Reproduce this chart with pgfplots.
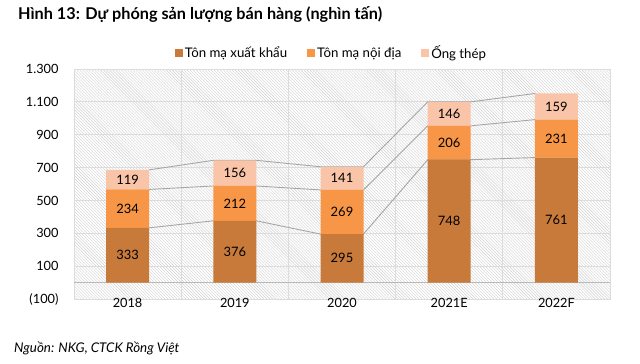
\documentclass[border=0pt]{standalone}
\usepackage{pgfplots}
\pgfplotsset{compat=1.18}
\usepackage{fontspec}
\setmainfont{Lato}
\usetikzlibrary{patterns}
\definecolor{c1}{HTML}{C87A3A}
\definecolor{c2}{HTML}{F79646}
\definecolor{c3}{HTML}{F9C4A7}
\definecolor{gridc}{HTML}{DCDCDC}
\definecolor{hatchc}{HTML}{CFCFCF}
\definecolor{linec}{HTML}{A6A6A6}
\begin{document}
\begin{tikzpicture}
\useasboundingbox (0bp,0bp) rectangle (640bp,-364bp);
\node[anchor=west, inner sep=0pt, font=\bfseries\fontsize{16.3}{19}\selectfont] at (18bp,-15bp) {Hình 13: Dự phóng sản lượng bán hàng (nghìn tấn)};
\node[anchor=west, inner sep=0pt, font=\itshape\fontsize{13.4}{16}\selectfont] at (14bp,-348bp) {Nguồn: NKG, CTCK Rồng Việt};
\pgfplotsset{base/.style={width=536bp,height=230bp,scale only axis, at={(74bp,-299bp)}, anchor=south west, xmin=-0.5,xmax=4.5,ymin=-100,ymax=1300}}
\begin{axis}[base,
  axis background/.style={pattern=north west lines, pattern color=hatchc},
  axis line style={gridc},
  xtick={0,...,4}, xticklabels={2018,2019,2020,2021E,2022F},
  ytick={-100,100,...,1300}, yticklabels={(100),100,300,500,700,900,{1.100},{1.300}},
  major tick length=0, minor tick length=0,
  minor xtick={-0.5,0.5,...,4.5}, xminorgrids, ymajorgrids,
  grid style={gridc, line width=0.8bp},
  minor grid style={gridc, line width=0.8bp},
  tick label style={font=\fontsize{12.8}{14}\selectfont},
  xticklabel style={yshift=4bp},
  yticklabel style={xshift=-12bp}]
\addplot[gray!55, line width=0.8bp] coordinates {(-0.5,0) (4.5,0)};
\addplot[linec, line width=0.9bp] coordinates {(0.2,333) (0.8,376) (1.2,376) (1.8,295) (2.2,295) (2.8,748) (3.2,748) (3.8,761)};
\addplot[linec, line width=0.9bp] coordinates {(0.2,567) (0.8,588) (1.2,588) (1.8,564) (2.2,564) (2.8,954) (3.2,954) (3.8,992)};
\addplot[linec, line width=0.9bp] coordinates {(0.2,686) (0.8,744) (1.2,744) (1.8,705) (2.2,705) (2.8,1100) (3.2,1100) (3.8,1151)};
\end{axis}
\begin{axis}[base, hide axis, ybar stacked, bar width=43bp,
  legend columns=3,
  legend style={draw=none, fill=none, at={(0.188,1.07)}, anchor=west, inner sep=0pt,
    font=\fontsize{13.3}{15}\selectfont,
    /tikz/every even column/.append style={column sep=18bp}},
  legend image code/.code={\fill[#1] (0bp,-4bp) rectangle (8bp,4bp);}]
\addplot[fill=c1, draw=none] coordinates {(0,333) (1,376) (2,295) (3,748) (4,761)};
\addplot[fill=c2, draw=none] coordinates {(0,234) (1,212) (2,269) (3,206) (4,231)};
\addplot[fill=c3, draw=none] coordinates {(0,119) (1,156) (2,141) (3,146) (4,159)};
\legend{Tôn mạ xuất khẩu, Tôn mạ nội địa, Ống thép}
\end{axis}
\begin{axis}[base, hide axis]
\addplot[draw=none, mark=none, nodes near coords, point meta=explicit symbolic,
  nodes near coords style={anchor=center, black, font=\fontsize{13}{14}\selectfont}]
  coordinates {(0,166.5)[333] (1,188)[376] (2,147.5)[295] (3,374)[748] (4,380.5)[761]
  (0,450)[234] (1,482)[212] (2,429.5)[269] (3,851)[206] (4,876.5)[231]
  (0,626.5)[119] (1,666)[156] (2,634.5)[141] (3,1027)[146] (4,1071.5)[159]};
\end{axis}
\end{tikzpicture}
\end{document}
